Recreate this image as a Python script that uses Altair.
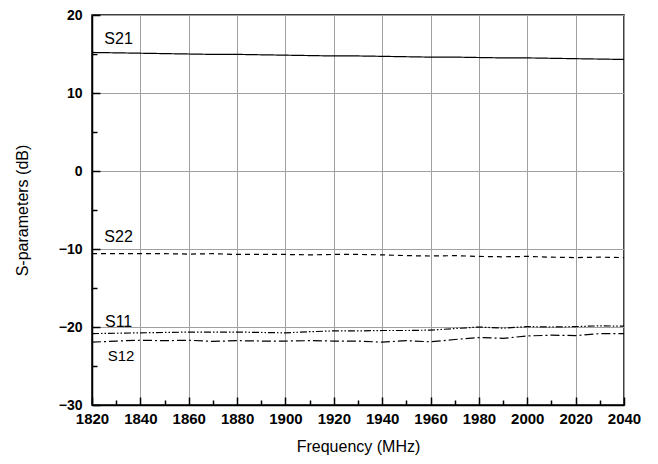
import altair as alt
import pandas as pd

freq = [1820, 1830, 1840, 1850, 1860, 1870, 1880, 1890, 1900, 1910, 1920, 1930,
        1940, 1950, 1960, 1970, 1980, 1990, 2000, 2010, 2020, 2030, 2040]
s21 = [15.2, 15.15, 15.1, 15.05, 15.0, 14.95, 14.95, 14.9, 14.85, 14.8, 14.75, 14.75,
       14.7, 14.65, 14.6, 14.6, 14.55, 14.5, 14.5, 14.45, 14.4, 14.35, 14.3]
s22 = [-10.6, -10.6, -10.6, -10.6, -10.65, -10.6, -10.7, -10.7, -10.7, -10.75, -10.7, -10.7,
       -10.75, -10.85, -10.9, -10.85, -10.95, -11.0, -10.95, -11.05, -11.1, -11.05, -11.1]
s11 = [-20.85, -20.8, -20.75, -20.7, -20.65, -20.65, -20.65, -20.7, -20.75, -20.6, -20.5, -20.5,
       -20.45, -20.45, -20.4, -20.2, -20.0, -20.15, -19.95, -20.0, -19.95, -19.85, -19.9]
s12 = [-21.95, -21.8, -21.7, -21.75, -21.7, -21.85, -21.75, -21.8, -21.8, -21.75, -21.8, -21.8,
       -21.95, -21.75, -21.9, -21.6, -21.35, -21.45, -21.15, -21.05, -21.1, -20.85, -20.85]

series_names = ["S21", "S22", "S11", "S12"]
label_x = [1831, 1831, 1831, 1832]
label_y = [16.9, -8.4, -19.4, -23.7]
label_size = [16, 16, 16, 15]

major_x = [1820, 1840, 1860, 1880, 1900, 1920, 1940, 1960, 1980, 2000, 2020, 2040]
minor_x = [1830, 1850, 1870, 1890, 1910, 1930, 1950, 1970, 1990, 2010, 2030]
major_y = [-30, -20, -10, 0, 10, 20]
minor_y = [-25, -15, -5, 5, 15]

rows = []
for name, vals in zip(series_names, [s21, s22, s11, s12]):
    for f, v in zip(freq, vals):
        rows.append({"freq": f, "value": v, "series": name})
df = pd.DataFrame(rows)
labels = pd.DataFrame({"freq": label_x, "value": label_y, "text": series_names, "size": label_size})

FONT = "Liberation Sans"
xscale = alt.Scale(domain=[1820, 2040], nice=False, zero=False)
yscale = alt.Scale(domain=[-30, 20], nice=False, zero=False)

lines = alt.Chart(df).mark_line(strokeWidth=1.2, color="black").encode(
    x=alt.X("freq:Q", scale=xscale, axis=alt.Axis(
        values=major_x, orient="bottom", title="Frequency (MHz)", format="d",
        grid=True, gridColor="#a0a0a0", gridWidth=1,
        domainColor="black", domainWidth=1.5,
        tickColor="black", tickWidth=1.5, tickSize={"expr": "-8"},
        labelPadding=14, labelFont=FONT, labelFontSize=15, labelFontWeight="bold",
        labelColor="black", labelFlush=False,
        titleFont=FONT, titleFontSize=16, titleFontWeight="normal", titleColor="black",
        titlePadding=12)),
    y=alt.Y("value:Q", scale=yscale, axis=alt.Axis(
        values=major_y, orient="left", title="S-parameters (dB)", format="d",
        grid=True, gridColor="#a0a0a0", gridWidth=1,
        domainColor="black", domainWidth=1.5,
        tickColor="black", tickWidth=1.5, tickSize={"expr": "-8"},
        labelPadding=18, labelFont=FONT, labelFontSize=14, labelFontWeight="bold",
        labelColor="black", labelFlush=False,
        titleFont=FONT, titleFontSize=16, titleFontWeight="normal", titleColor="black",
        titlePadding=28)),
    detail="series:N",
    strokeDash=alt.StrokeDash("series:N", legend=None, scale=alt.Scale(
        domain=series_names,
        range=[[1, 0], [5, 4], [7, 2, 1.5, 2, 1.5, 2], [9, 3, 2, 3]])),
)

minor = alt.Chart(df).mark_line(opacity=0).encode(
    x=alt.X("freq:Q", scale=xscale, axis=alt.Axis(
        values=minor_x, orient="bottom", title=None, labels=False, grid=False,
        domain=False, tickColor="black", tickWidth=1.5, tickSize={"expr": "-5"})),
    y=alt.Y("value:Q", scale=yscale, axis=alt.Axis(
        values=minor_y, orient="left", title=None, labels=False, grid=False,
        domain=False, tickColor="black", tickWidth=1.5, tickSize={"expr": "-5"})),
    detail="series:N",
)

text = alt.Chart(labels).mark_text(font=FONT, color="black", align="center",
                                   baseline="middle").encode(
    x=alt.X("freq:Q", scale=xscale, axis=None),
    y=alt.Y("value:Q", scale=yscale, axis=None),
    text="text:N",
    size=alt.Size("size:Q", scale=None, legend=None),
)

chart = alt.layer(lines, minor, text).resolve_axis(
    x="independent", y="independent"
).properties(
    width=532, height=390,
    autosize=alt.AutoSizeParams(type="none"),
    padding={"left": 84, "top": 7, "right": 26, "bottom": 51},
).configure_view(stroke="black", strokeWidth=1.5)

chart.save("out.html", embed_options={"renderer": "svg", "actions": False})
